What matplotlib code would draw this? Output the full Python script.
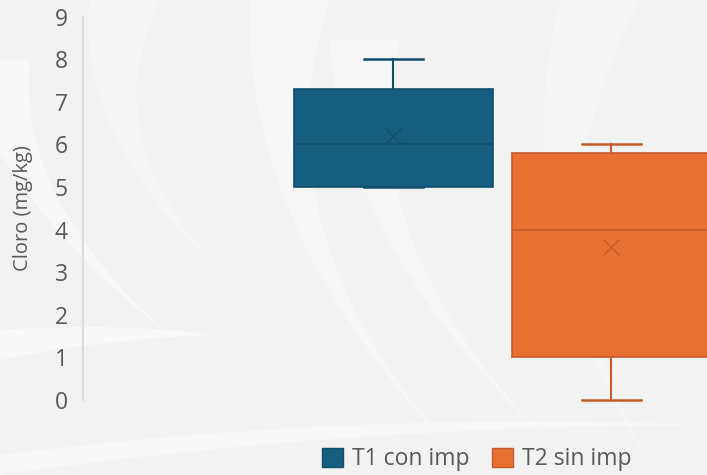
import numpy as np
import matplotlib
matplotlib.use("Agg")
import matplotlib.pyplot as plt
from matplotlib.path import Path
from matplotlib.patches import PathPatch, Patch

# data
series = ["T1 con imp", "T2 sin imp"]
q1 = [5.0, 1.0]
med = [6.0, 4.0]
q3 = [7.3, 5.8]
whis_lo = [5.0, 0.0]
whis_hi = [8.0, 6.0]
means = [6.2, 3.6]

fill_colors = ["#165e80", "#e87033"]
edge_colors = ["#124e6b", "#c85b2b"]
text_col = "#595959"

W, H = 707, 475
fig = plt.figure(figsize=(W / 100, H / 100), dpi=100)
fig.patch.set_facecolor("#f2f2f2")
plt.rcParams["font.family"] = ["Open Sans", "DejaVu Sans"]


def crescent(x0, x1, y0, xt, yt, bend, alpha=0.75):
    """tapered white sweep from a wide top edge to a pointed tip (pixel coords, y down)"""
    def P(x, y):
        return (x / W, 1 - y / H)
    mx0, my0 = (x0 + xt) / 2 + bend, (y0 + yt) / 2
    mx1, my1 = (x1 + xt) / 2 + bend * 1.25, (y0 + yt) / 2
    verts = [P(x0, y0), P(mx0, my0), P(xt, yt), P(mx1, my1), P(x1, y0), P(x0, y0)]
    codes = [Path.MOVETO, Path.CURVE3, Path.CURVE3, Path.CURVE3, Path.CURVE3, Path.CLOSEPOLY]
    fig.patches.append(PathPatch(Path(verts, codes), transform=fig.transFigure,
                                 facecolor="white", edgecolor="none", alpha=alpha, zorder=-5))


# background swooshes
crescent(-40, 30, 60, 175, 340, -70, 0.4)
crescent(90, 160, 0, 240, 290, -90, 0.3)
crescent(250, 330, 0, 470, 470, -120, 0.35)
crescent(330, 400, 40, 590, 480, -120, 0.35)
crescent(640, 720, 200, 707, 330, -20, 0.45)
crescent(560, 640, 0, 660, 480, -110, 0.3)
# horizontal sweeps near the bottom
fig.patches.append(PathPatch(Path(
    [(0, 1 - 330 / H), (120 / W, 1 - 322 / H), (215 / W, 1 - 335 / H),
     (110 / W, 1 - 338 / H), (0, 1 - 360 / H), (0, 1 - 330 / H)],
    [Path.MOVETO, Path.CURVE3, Path.CURVE3, Path.CURVE3, Path.CURVE3, Path.CLOSEPOLY]),
    transform=fig.transFigure, facecolor="white", edgecolor="none", alpha=0.5, zorder=-5))
fig.patches.append(PathPatch(Path(
    [(0, 1 - 455 / H), (350 / W, 1 - 410 / H), (707 / W, 1 - 425 / H),
     (350 / W, 1 - 425 / H), (0, 1 - 475 / H), (0, 1 - 455 / H)],
    [Path.MOVETO, Path.CURVE3, Path.CURVE3, Path.CURVE3, Path.CURVE3, Path.CLOSEPOLY]),
    transform=fig.transFigure, facecolor="white", edgecolor="none", alpha=0.4, zorder=-5))

ax = fig.add_axes([83 / W, 75 / H, 1 - 83 / W, (400 - 16.5) / H])
ax.set_facecolor("none")

stats = []
for i, name in enumerate(series):
    stats.append(dict(label=name, q1=q1[i], med=med[i], q3=q3[i],
                      whislo=whis_lo[i], whishi=whis_hi[i], mean=means[i]))

positions = [1, 2]
for i in range(len(series)):
    parts = ax.bxp([stats[i]], positions=[positions[i]], widths=0.913, capwidths=0.27,
                   patch_artist=True, showmeans=True, showfliers=False,
                   boxprops=dict(facecolor=fill_colors[i], edgecolor=edge_colors[i], linewidth=1.2),
                   medianprops=dict(color=edge_colors[i], linewidth=1.2),
                   whiskerprops=dict(color=edge_colors[i], linewidth=1.5),
                   capprops=dict(color=edge_colors[i], linewidth=1.8),
                   meanprops=dict(marker="x", markersize=11, markeredgecolor=edge_colors[i],
                                  markeredgewidth=1.0))
    for key in ["whiskers", "caps"]:
        for a in parts[key]:
            a.set_clip_on(False)
            a.set_zorder(1)
    for b in parts["boxes"]:
        b.set_zorder(2)
    for a in parts["medians"] + parts["means"]:
        a.set_zorder(3)

ax.set_xlim(-0.423, 2.439)
ax.set_ylim(0, 9)
ax.set_yticks(range(10))
ax.set_xticks([])
ax.tick_params(axis="y", length=0, pad=11, labelsize=16.5, labelcolor=text_col)
for s in ["top", "right", "bottom"]:
    ax.spines[s].set_visible(False)
ax.spines["left"].set_color("#d9d9d9")
ax.spines["left"].set_linewidth(1.3)
ax.set_ylabel("Cloro (mg/kg)", fontsize=14.5, color=text_col)
ax.yaxis.set_label_coords(-(83 - 33) / (W - 83), (400 - 208) / (400 - 16.5))

handles = [Patch(facecolor=fill_colors[i], edgecolor=edge_colors[i], linewidth=1.0)
           for i in range(len(series))]
fig.legend(handles, series, loc="center", bbox_to_anchor=(477 / W, 1 - 459 / H),
           ncol=2, frameon=False, fontsize=16.5, labelcolor=text_col,
           handlelength=0.9, handleheight=0.9, handletextpad=0.4, columnspacing=1.0)

fig.savefig("out.png", dpi=100, facecolor=fig.get_facecolor())
